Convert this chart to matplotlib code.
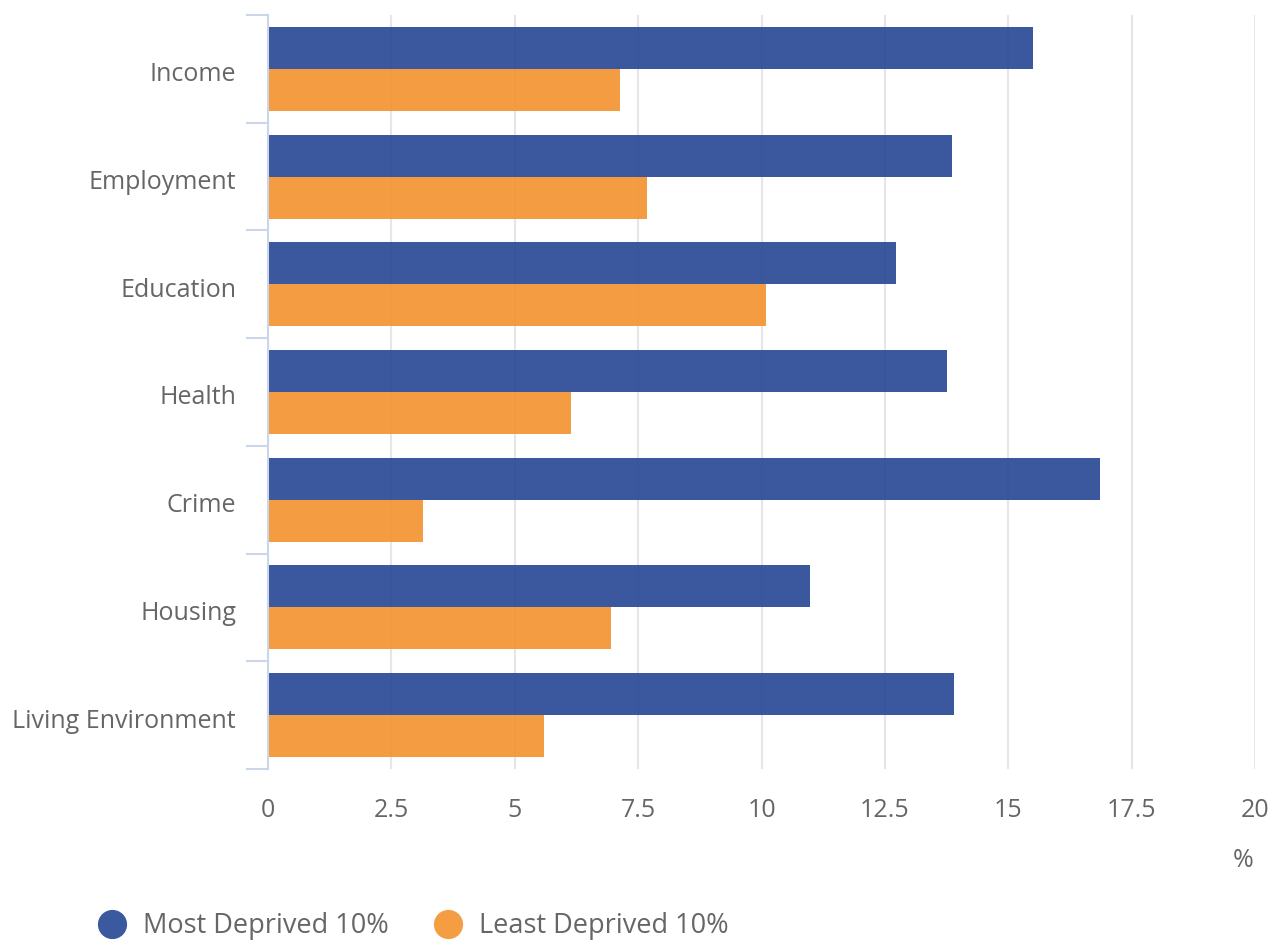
import matplotlib as mpl
mpl.use('agg')
import matplotlib.pyplot as plt
import matplotlib.transforms as mtransforms
from matplotlib.lines import Line2D
import numpy as np

plt.rcParams['font.family'] = ['Open Sans', 'DejaVu Sans']

domains = ["Income", "Employment", "Education", "Health", "Crime", "Housing", "Living Environment"]
most_deprived = [15.5, 13.86, 12.73, 13.76, 16.86, 10.98, 13.9]
least_deprived = [7.13, 7.68, 10.09, 6.14, 3.14, 6.95, 5.59]

blue = '#2a4a96'
orange = '#f49431'
grey_txt = '#666666'
axis_col = '#ccd6eb'

fig = plt.figure(figsize=(12.79, 9.42), dpi=100)
ax = fig.add_axes([268/1279, 1 - 769/942, (1255 - 268)/1279, (769 - 15)/942])

y = np.arange(len(domains))
h = 0.39
ax.barh(y - h/2, most_deprived, height=h, color=blue, alpha=0.92, zorder=2)
ax.barh(y + h/2, least_deprived, height=h, color=orange, alpha=0.92, zorder=2)

ax.set_ylim(len(domains) - 0.5, -0.5)
ax.set_xlim(0, 20)
ax.set_xticks(np.arange(0, 20.1, 2.5))
ax.set_xticklabels(['0', '2.5', '5', '7.5', '10', '12.5', '15', '17.5', '20'])
ax.set_yticks(y)
ax.set_yticklabels(domains)
ax.set_yticks(np.arange(-0.5, len(domains)), minor=True)

ax.grid(True, axis='x', color='#e6e6e6', linewidth=1.5, zorder=0)
ax.set_axisbelow(True)
for s in ['top', 'right', 'bottom']:
    ax.spines[s].set_visible(False)
ax.spines['left'].set_color(axis_col)
ax.spines['left'].set_linewidth(1.5)

ax.tick_params(axis='x', length=0, pad=21, labelsize=18, labelcolor=grey_txt)
ax.tick_params(axis='y', which='major', length=0, pad=23, labelsize=18, labelcolor=grey_txt)
ax.tick_params(axis='y', which='minor', length=16, width=1.5, color=axis_col)

# nudge category labels down a little
shift = mtransforms.ScaledTranslation(0, -3/100, fig.dpi_scale_trans)
for lab in ax.get_yticklabels():
    lab.set_transform(lab.get_transform() + shift)

ax.set_xlabel('%', fontsize=18, color=grey_txt)
ax.xaxis.set_label_coords(0.988, -0.105)

handles = [
    Line2D([], [], marker='o', linestyle='none', markersize=20, color='#3b599e', label='Most Deprived 10%'),
    Line2D([], [], marker='o', linestyle='none', markersize=20, color='#f59d42', label='Least Deprived 10%'),
]
fig.legend(handles=handles, loc='center left', bbox_to_anchor=(71/1279, 1 - 926/942),
           frameon=False, fontsize=19.5, labelcolor=grey_txt, ncol=2,
           handletextpad=0.55, columnspacing=1.6, handlelength=1.2)

plt.savefig('out.png', dpi=100)
